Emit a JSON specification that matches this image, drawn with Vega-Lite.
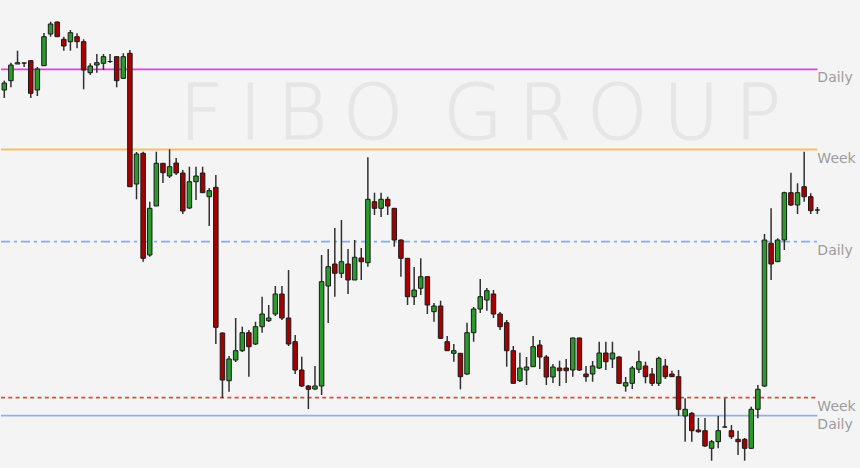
{
  "$schema": "https://vega.github.io/schema/vega-lite/v6.json",
  "width": 860,
  "height": 468,
  "autosize": {"type": "fit", "contains": "padding"},
  "padding": 0,
  "background": "#f4f4f4",
  "config": {"view": {"stroke": null}, "scale": {"continuousPadding": 0}},
  "datasets": {
    "wm": [{"t": "F\u200a\u200aI\u200a\u200aB\u200a\u200aO \u200a\u200aG\u200a\u200aR\u200a\u200aO\u200a\u200aU\u200a\u200aP", "x": 72, "y": 352}],
    "levels": [
      {"line": "a", "lvl": 398.7, "label": "Daily", "x0": -0.5, "x1": 123},
      {"line": "b", "lvl": 318.5, "label": "Week", "x0": -0.5, "x1": 123},
      {"line": "c", "lvl": 226.3, "label": "Daily", "x0": -0.5, "x1": 123},
      {"line": "d", "lvl": 70.3, "label": "Week", "x0": -0.5, "x1": 123},
      {"line": "e", "lvl": 52.3, "label": "Daily", "x0": -0.5, "x1": 123}
    ],
    "candles": [
      {"i":0,"o":378,"h":387.3,"l":370,"c":385},
      {"i":1,"o":387.3,"h":405.3,"l":380.7,"c":403},
      {"i":2,"o":404,"h":417.3,"l":404,"c":405.3},
      {"i":3,"o":405,"h":405.5,"l":401,"c":405},
      {"i":4,"o":407.3,"h":408,"l":370,"c":374.7},
      {"i":5,"o":378,"h":401,"l":372,"c":399},
      {"i":6,"o":402.3,"h":435,"l":402,"c":431.3},
      {"i":7,"o":434,"h":446.3,"l":431.3,"c":444},
      {"i":8,"o":446,"h":446.5,"l":431,"c":431.3},
      {"i":9,"o":428.7,"h":431.3,"l":417.3,"c":422},
      {"i":10,"o":426.3,"h":438,"l":417.3,"c":435.3},
      {"i":11,"o":431.3,"h":434.7,"l":419.7,"c":426.3},
      {"i":12,"o":426.3,"h":428.7,"l":378.7,"c":398},
      {"i":13,"o":395.3,"h":404.7,"l":393,"c":402},
      {"i":14,"o":403,"h":414,"l":395.3,"c":405.3},
      {"i":15,"o":404.7,"h":414,"l":398,"c":411.3},
      {"i":16,"o":406.5,"h":414,"l":405,"c":406.5},
      {"i":17,"o":411.3,"h":412,"l":380.7,"c":387.3},
      {"i":18,"o":389.7,"h":414.7,"l":389,"c":411.3},
      {"i":19,"o":414.7,"h":418,"l":281,"c":281.3},
      {"i":20,"o":284,"h":316,"l":268.7,"c":314},
      {"i":21,"o":314.7,"h":316.3,"l":206.3,"c":209.7},
      {"i":22,"o":213,"h":266.3,"l":211.3,"c":259.7},
      {"i":23,"o":262,"h":316.3,"l":262,"c":304.7},
      {"i":24,"o":304.7,"h":305,"l":285,"c":295.3},
      {"i":25,"o":292,"h":318.7,"l":290,"c":301.3},
      {"i":26,"o":305,"h":310,"l":293,"c":295},
      {"i":27,"o":295,"h":298,"l":254,"c":257},
      {"i":28,"o":260,"h":301.3,"l":259,"c":286.3},
      {"i":29,"o":286.3,"h":301.3,"l":268,"c":292},
      {"i":30,"o":295,"h":301.3,"l":275,"c":275.3},
      {"i":31,"o":271.3,"h":280,"l":242,"c":277.3},
      {"i":32,"o":280.7,"h":293,"l":124,"c":140.7},
      {"i":33,"o":135,"h":135.5,"l":70,"c":88},
      {"i":34,"o":87.3,"h":112,"l":76.3,"c":109},
      {"i":35,"o":108,"h":150,"l":106,"c":117.3},
      {"i":36,"o":117.3,"h":141.3,"l":116,"c":135.3},
      {"i":37,"o":135.3,"h":138,"l":91.3,"c":121.3},
      {"i":38,"o":124,"h":146.3,"l":123,"c":141.3},
      {"i":39,"o":141.3,"h":171.3,"l":135.3,"c":154},
      {"i":40,"o":147.3,"h":163,"l":146,"c":150},
      {"i":41,"o":154,"h":182,"l":152,"c":174},
      {"i":42,"o":174,"h":182,"l":148,"c":150},
      {"i":43,"o":150,"h":198,"l":122,"c":124},
      {"i":44,"o":126.3,"h":133,"l":94,"c":98},
      {"i":45,"o":98,"h":111.3,"l":81,"c":82},
      {"i":46,"o":82,"h":83,"l":59,"c":78.7},
      {"i":47,"o":79,"h":102,"l":78,"c":82},
      {"i":48,"o":82,"h":213,"l":73,"c":186.3},
      {"i":49,"o":182,"h":219,"l":145,"c":201.3},
      {"i":50,"o":204,"h":240,"l":171.3,"c":194.7},
      {"i":51,"o":194.7,"h":248,"l":190,"c":206.3},
      {"i":52,"o":204,"h":219,"l":174,"c":188},
      {"i":53,"o":188,"h":228,"l":188,"c":210.7},
      {"i":54,"o":210,"h":220,"l":188,"c":206.3},
      {"i":55,"o":205.3,"h":310.7,"l":201.3,"c":268.7},
      {"i":56,"o":266.3,"h":275.3,"l":253,"c":259.7},
      {"i":57,"o":259.7,"h":275.3,"l":251,"c":268.7},
      {"i":58,"o":268.7,"h":271.3,"l":253,"c":262},
      {"i":59,"o":259.7,"h":260,"l":221.3,"c":228},
      {"i":60,"o":228,"h":228.5,"l":191.3,"c":209.7},
      {"i":61,"o":209.7,"h":210,"l":163,"c":171.3},
      {"i":62,"o":171.3,"h":201,"l":163,"c":178},
      {"i":63,"o":179.7,"h":209.7,"l":173,"c":191.3},
      {"i":64,"o":191.3,"h":192,"l":154,"c":163},
      {"i":65,"o":156.3,"h":165,"l":146.3,"c":162},
      {"i":66,"o":162,"h":167.3,"l":129,"c":129.7},
      {"i":67,"o":126.3,"h":132,"l":117,"c":117.3},
      {"i":68,"o":114.7,"h":124,"l":106.3,"c":117.3},
      {"i":69,"o":114.7,"h":115,"l":78.7,"c":91.3},
      {"i":70,"o":94,"h":145.3,"l":93,"c":135.3},
      {"i":71,"o":135.3,"h":161,"l":126.3,"c":159},
      {"i":72,"o":159,"h":189,"l":155,"c":171.3},
      {"i":73,"o":168,"h":180,"l":157.3,"c":177.3},
      {"i":74,"o":174,"h":178,"l":150,"c":154},
      {"i":75,"o":154,"h":156,"l":138,"c":141.3},
      {"i":76,"o":145.3,"h":148,"l":101.3,"c":117.3},
      {"i":77,"o":117.3,"h":122,"l":84,"c":84.7},
      {"i":78,"o":87.3,"h":115.3,"l":86,"c":100},
      {"i":79,"o":98,"h":111,"l":83,"c":101},
      {"i":80,"o":101.3,"h":132,"l":101,"c":121.3},
      {"i":81,"o":123,"h":128,"l":99,"c":111},
      {"i":82,"o":111,"h":113,"l":83,"c":91},
      {"i":83,"o":91,"h":104,"l":85,"c":101},
      {"i":84,"o":100,"h":107.3,"l":82,"c":97.3},
      {"i":85,"o":100,"h":109,"l":85,"c":97.3},
      {"i":86,"o":98,"h":130.5,"l":91.3,"c":130},
      {"i":87,"o":130,"h":130.5,"l":97,"c":98},
      {"i":88,"o":94,"h":102,"l":86.3,"c":91.3},
      {"i":89,"o":94,"h":107,"l":86.3,"c":102},
      {"i":90,"o":100,"h":126.3,"l":99,"c":115},
      {"i":91,"o":115,"h":126.3,"l":98,"c":106.3},
      {"i":92,"o":109,"h":126.3,"l":100,"c":115},
      {"i":93,"o":111,"h":112,"l":84,"c":84.7},
      {"i":94,"o":82,"h":91,"l":76.3,"c":85.3},
      {"i":95,"o":84.7,"h":102,"l":79,"c":100},
      {"i":96,"o":98.7,"h":117.3,"l":95,"c":106.3},
      {"i":97,"o":102,"h":106.3,"l":84.7,"c":91.3},
      {"i":98,"o":94,"h":100,"l":82,"c":84.7},
      {"i":99,"o":84.7,"h":111.3,"l":82,"c":109.7},
      {"i":100,"o":102,"h":109,"l":89,"c":91.3},
      {"i":101,"o":94,"h":97.3,"l":91,"c":91.3},
      {"i":102,"o":91.3,"h":98,"l":52,"c":58.7},
      {"i":103,"o":52,"h":69.7,"l":26.3,"c":58.7},
      {"i":104,"o":54.7,"h":56,"l":26.3,"c":37.3},
      {"i":105,"o":38,"h":50,"l":35.3,"c":36.3},
      {"i":106,"o":37.3,"h":50,"l":21,"c":22},
      {"i":107,"o":19.7,"h":28,"l":7.3,"c":26.3},
      {"i":108,"o":26.3,"h":52,"l":19.7,"c":37.3},
      {"i":109,"o":41,"h":69.7,"l":40.5,"c":41},
      {"i":110,"o":37.3,"h":43,"l":29,"c":31.3},
      {"i":111,"o":28.7,"h":37.3,"l":13,"c":26.3},
      {"i":112,"o":28.7,"h":30,"l":7.3,"c":19.7},
      {"i":113,"o":19.7,"h":61.3,"l":19,"c":58.7},
      {"i":114,"o":58.7,"h":83,"l":49.7,"c":78.7},
      {"i":115,"o":82,"h":234,"l":81,"c":228},
      {"i":116,"o":224.7,"h":259.7,"l":188,"c":204},
      {"i":117,"o":206.3,"h":229.7,"l":206,"c":228},
      {"i":118,"o":228,"h":276.3,"l":218,"c":275.3},
      {"i":119,"o":275.3,"h":295.3,"l":262,"c":263},
      {"i":120,"o":263,"h":284.7,"l":254,"c":275.3},
      {"i":121,"o":281.3,"h":316.3,"l":266.3,"c":271.3},
      {"i":122,"o":271.3,"h":274.7,"l":254,"c":257.3},
      {"i":123,"o":258,"h":261,"l":254,"c":258}
    ]
  },
  "layer": [
    {
      "data": {"name": "wm"},
      "mark": {"type": "text", "font": "DejaVu Sans", "fontWeight": 200, "fontSize": 77, "align": "center", "baseline": "middle", "color": "#e6e6e6", "stroke": "#e6e6e6", "strokeWidth": 1.2},
      "encoding": {
        "x": {"field": "x", "type": "quantitative", "scale": {"domain": [-0.5, 129.45], "nice": false, "zero": false, "padding": 0}, "axis": null},
        "y": {"field": "y", "type": "quantitative", "scale": {"domain": [0, 468], "nice": false, "zero": false, "padding": 0}, "axis": null},
        "text": {"field": "t"}
      }
    },
    {
      "data": {"name": "levels"},
      "mark": {"type": "rule", "strokeWidth": 1.8},
      "encoding": {
        "x": {"field": "x0", "type": "quantitative"},
        "x2": {"field": "x1"},
        "y": {"field": "lvl", "type": "quantitative"},
        "color": {"field": "line", "type": "nominal", "scale": {"domain": ["a", "b", "c", "d", "e"], "range": ["#e040e0", "#f0c070", "#88aaee", "#e04848", "#8eb0ec"]}, "legend": null},
        "strokeDash": {"field": "line", "type": "nominal", "scale": {"domain": ["a", "b", "c", "d", "e"], "range": [[1, 0], [1, 0], [9, 4, 3, 4], [4, 3.3], [1, 0]]}, "legend": null}
      }
    },
    {
      "data": {"name": "levels"},
      "mark": {"type": "text", "font": "DejaVu Sans", "fontSize": 14, "align": "left", "baseline": "top", "dx": 0, "dy": 2, "color": "#9c9c9c", "clip": true},
      "encoding": {
        "x": {"field": "x1", "type": "quantitative"},
        "y": {"field": "lvl", "type": "quantitative"},
        "text": {"field": "label"}
      }
    },
    {
      "data": {"name": "candles"},
      "mark": {"type": "rule", "color": "#303030", "strokeWidth": 1.5},
      "encoding": {
        "x": {"field": "i", "type": "quantitative"},
        "y": {"field": "l", "type": "quantitative"},
        "y2": {"field": "h"}
      }
    },
    {
      "data": {"name": "candles"},
      "mark": {"type": "bar", "size": 4.5, "stroke": "#1a1a1a", "strokeWidth": 1},
      "encoding": {
        "x": {"field": "i", "type": "quantitative"},
        "y": {"field": "o", "type": "quantitative"},
        "y2": {"field": "c"},
        "fill": {"condition": {"test": "datum.c >= datum.o", "value": "#2a9a2a"}, "value": "#a80000"}
      }
    }
  ]
}
